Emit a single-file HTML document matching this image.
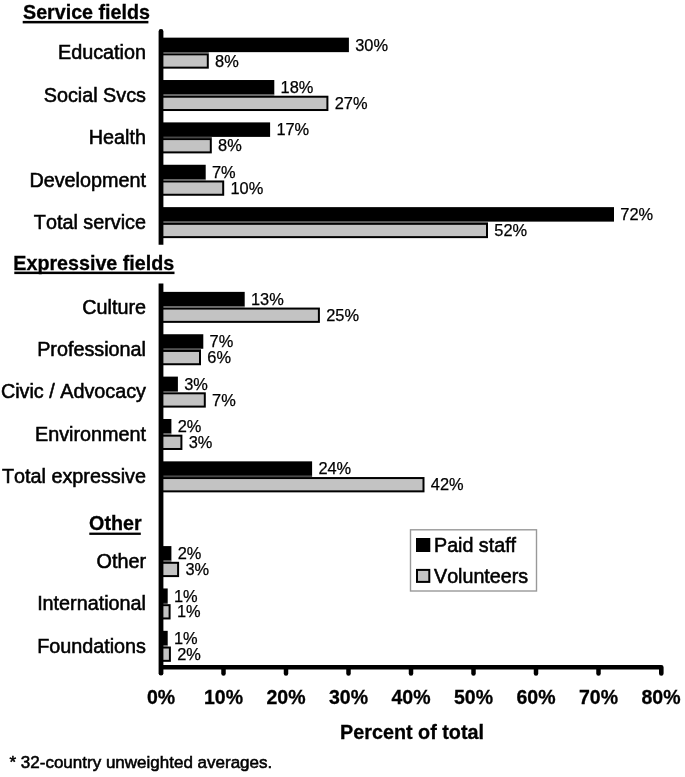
<!DOCTYPE html>
<html><head><meta charset="utf-8"><title>Chart</title>
<style>
html,body{margin:0;padding:0;background:#fff;}
body{width:685px;height:777px;overflow:hidden;}
svg{display:block;}
text{font-family:"Liberation Sans",Arial,Helvetica,sans-serif;font-kerning:none;fill:#000;stroke:#000;stroke-width:0.55px;paint-order:stroke;}
.h,.t{stroke-width:0.3px;}
.v{stroke-width:0.25px;}
.c{font-size:19.8px;text-anchor:end;}
.v{font-size:16.4px;}
.t{font-size:19.5px;font-weight:bold;text-anchor:middle;}
.h{font-size:19.7px;font-weight:bold;}
.lg{font-size:19.7px;}
.ft{font-size:17px;}
</style></head>
<body>
<svg width="685" height="777" viewBox="0 0 685 777">
<rect width="685" height="777" fill="#fff"/>
<!-- section headers -->
<text class="h" x="23" y="18.7">Service fields</text>
<rect x="22.7" y="20.9" width="125.7" height="2.5" fill="#000"/>
<text class="h" x="13.3" y="269.9">Expressive fields</text>
<rect x="14.3" y="271.6" width="160.2" height="2.5" fill="#000"/>
<text class="h" x="89.1" y="530">Other</text>
<rect x="89.3" y="532.6" width="51.5" height="2.3" fill="#000"/>
<rect x="161" y="37.65" width="187.9" height="14.5" fill="#000"/>
<rect x="161" y="54.35" width="46.8" height="13.3" fill="#c3c3c3" stroke="#000" stroke-width="2"/>
<rect x="161" y="52.15" width="47.8" height="1.2" fill="#4a4a4a"/>
<text class="v" x="355.2" y="50.75">30%</text>
<text class="v" x="215.1" y="66.65">8%</text>
<text class="c" x="146" y="59.45">Education</text>
<rect x="161" y="80.02" width="113.3" height="14.5" fill="#000"/>
<rect x="161" y="96.72" width="166.4" height="13.3" fill="#c3c3c3" stroke="#000" stroke-width="2"/>
<rect x="161" y="94.52" width="113.3" height="1.2" fill="#4a4a4a"/>
<text class="v" x="280.6" y="93.12">18%</text>
<text class="v" x="334.7" y="109.02">27%</text>
<text class="c" x="146" y="101.82">Social Svcs</text>
<rect x="161" y="122.39" width="109.1" height="14.5" fill="#000"/>
<rect x="161" y="139.09" width="49.8" height="13.3" fill="#c3c3c3" stroke="#000" stroke-width="2"/>
<rect x="161" y="136.89" width="50.8" height="1.2" fill="#4a4a4a"/>
<text class="v" x="276.4" y="135.49">17%</text>
<text class="v" x="218.1" y="151.39">8%</text>
<text class="c" x="146" y="144.19">Health</text>
<rect x="161" y="164.76" width="44.7" height="14.5" fill="#000"/>
<rect x="161" y="181.46" width="62.2" height="13.3" fill="#c3c3c3" stroke="#000" stroke-width="2"/>
<rect x="161" y="179.26" width="44.7" height="1.2" fill="#4a4a4a"/>
<text class="v" x="212" y="177.86">7%</text>
<text class="v" x="230.5" y="193.76">10%</text>
<text class="c" x="146" y="186.56">Development</text>
<rect x="161" y="207.13" width="453" height="14.5" fill="#000"/>
<rect x="161" y="223.83" width="326" height="13.3" fill="#c3c3c3" stroke="#000" stroke-width="2"/>
<rect x="161" y="221.63" width="327" height="1.2" fill="#4a4a4a"/>
<text class="v" x="620.3" y="220.23">72%</text>
<text class="v" x="494.3" y="236.13">52%</text>
<text class="c" x="146" y="228.93">Total service</text>
<rect x="161" y="291.87" width="83.7" height="14.5" fill="#000"/>
<rect x="161" y="308.57" width="157.9" height="13.3" fill="#c3c3c3" stroke="#000" stroke-width="2"/>
<rect x="161" y="306.37" width="83.7" height="1.2" fill="#4a4a4a"/>
<text class="v" x="251" y="304.97">13%</text>
<text class="v" x="326.2" y="320.87">25%</text>
<text class="c" x="146" y="313.67">Culture</text>
<rect x="161" y="334.24" width="42.3" height="14.5" fill="#000"/>
<rect x="161" y="350.94" width="39" height="13.3" fill="#c3c3c3" stroke="#000" stroke-width="2"/>
<rect x="161" y="348.74" width="40" height="1.2" fill="#4a4a4a"/>
<text class="v" x="209.6" y="347.34">7%</text>
<text class="v" x="207.3" y="363.24">6%</text>
<text class="c" x="146" y="356.04">Professional</text>
<rect x="161" y="376.61" width="16.9" height="14.5" fill="#000"/>
<rect x="161" y="393.31" width="43.8" height="13.3" fill="#c3c3c3" stroke="#000" stroke-width="2"/>
<rect x="161" y="391.11" width="16.9" height="1.2" fill="#4a4a4a"/>
<text class="v" x="184.2" y="389.71">3%</text>
<text class="v" x="212.1" y="405.61">7%</text>
<text class="c" x="146" y="398.41">Civic / Advocacy</text>
<rect x="161" y="418.98" width="10.4" height="14.5" fill="#000"/>
<rect x="161" y="435.68" width="20.4" height="13.3" fill="#c3c3c3" stroke="#000" stroke-width="2"/>
<rect x="161" y="433.48" width="10.4" height="1.2" fill="#4a4a4a"/>
<text class="v" x="177.7" y="432.08">2%</text>
<text class="v" x="188.7" y="447.98">3%</text>
<text class="c" x="146" y="440.78">Environment</text>
<rect x="161" y="461.35" width="151.1" height="14.5" fill="#000"/>
<rect x="161" y="478.05" width="262.5" height="13.3" fill="#c3c3c3" stroke="#000" stroke-width="2"/>
<rect x="161" y="475.85" width="151.1" height="1.2" fill="#4a4a4a"/>
<text class="v" x="318.4" y="474.45">24%</text>
<text class="v" x="430.8" y="490.35">42%</text>
<text class="c" x="146" y="483.15">Total expressive</text>
<rect x="161" y="546.09" width="10.4" height="14.5" fill="#000"/>
<rect x="161" y="562.79" width="17.1" height="13.3" fill="#c3c3c3" stroke="#000" stroke-width="2"/>
<rect x="161" y="560.59" width="10.4" height="1.2" fill="#4a4a4a"/>
<text class="v" x="177.7" y="559.19">2%</text>
<text class="v" x="185.4" y="575.09">3%</text>
<text class="c" x="146" y="567.89">Other</text>
<rect x="161" y="588.46" width="6.7" height="14.5" fill="#000"/>
<rect x="161" y="605.16" width="8.6" height="13.3" fill="#c3c3c3" stroke="#000" stroke-width="2"/>
<rect x="161" y="602.96" width="6.7" height="1.2" fill="#4a4a4a"/>
<text class="v" x="174" y="601.56">1%</text>
<text class="v" x="176.9" y="617.46">1%</text>
<text class="c" x="146" y="610.26">International</text>
<rect x="161" y="630.83" width="6.7" height="14.5" fill="#000"/>
<rect x="161" y="647.53" width="8.9" height="13.3" fill="#c3c3c3" stroke="#000" stroke-width="2"/>
<rect x="161" y="645.33" width="6.7" height="1.2" fill="#4a4a4a"/>
<text class="v" x="174" y="643.93">1%</text>
<text class="v" x="177.2" y="659.83">2%</text>
<text class="c" x="146" y="652.63">Foundations</text>
<path d="M158.6 244.8 V31.4 A2.4 2.4 0 0 1 163.4 31.4 V244.8 Z" fill="#000"/>
<path d="M158.6 283.4 V673.2 A2.4 2.4 0 0 0 163.4 673.2 V283.4 Z" fill="#000"/>
<path d="M162.5 667.3 H661.3 V673.4" fill="none" stroke="#000" stroke-width="4.6" stroke-linecap="round" stroke-linejoin="round"/>
<line x1="223.5" y1="667.3" x2="223.5" y2="673.4" stroke="#000" stroke-width="4.5" stroke-linecap="round"/>
<line x1="286" y1="667.3" x2="286" y2="673.4" stroke="#000" stroke-width="4.5" stroke-linecap="round"/>
<line x1="348.5" y1="667.3" x2="348.5" y2="673.4" stroke="#000" stroke-width="4.5" stroke-linecap="round"/>
<line x1="411" y1="667.3" x2="411" y2="673.4" stroke="#000" stroke-width="4.5" stroke-linecap="round"/>
<line x1="473.5" y1="667.3" x2="473.5" y2="673.4" stroke="#000" stroke-width="4.5" stroke-linecap="round"/>
<line x1="536" y1="667.3" x2="536" y2="673.4" stroke="#000" stroke-width="4.5" stroke-linecap="round"/>
<line x1="598.5" y1="667.3" x2="598.5" y2="673.4" stroke="#000" stroke-width="4.5" stroke-linecap="round"/>
<text class="t" x="161" y="703.7">0%</text>
<text class="t" x="223.5" y="703.7">10%</text>
<text class="t" x="286" y="703.7">20%</text>
<text class="t" x="348.5" y="703.7">30%</text>
<text class="t" x="411" y="703.7">40%</text>
<text class="t" x="473.5" y="703.7">50%</text>
<text class="t" x="536" y="703.7">60%</text>
<text class="t" x="598.5" y="703.7">70%</text>
<text class="t" x="661" y="703.7">80%</text>
<!-- legend -->
<rect x="410.5" y="529.8" width="126" height="61.2" fill="#fff" stroke="#999" stroke-width="1.4"/>
<rect x="416" y="538" width="14.3" height="14" fill="#000"/>
<rect x="417" y="569.9" width="12.3" height="12" fill="#c3c3c3" stroke="#000" stroke-width="2"/>
<text class="lg" x="434" y="551.9">Paid staff</text>
<text class="lg" x="434" y="582.8">Volunteers</text>
<!-- axis title and footnote -->
<text class="h" x="340" y="738.5" style="font-size:19.8px">Percent of total</text>
<text class="ft" x="9.5" y="767.5">* 32-country unweighted averages.</text>
</svg>
</body></html>
